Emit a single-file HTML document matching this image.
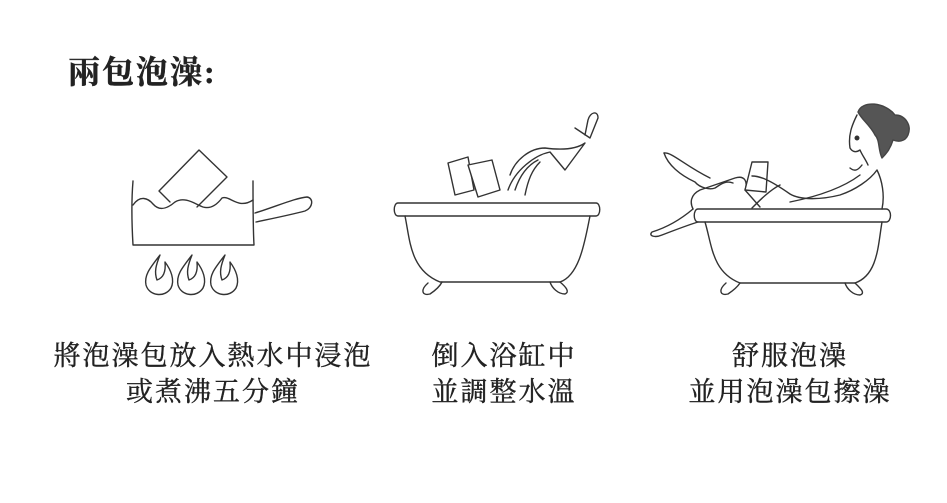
<!DOCTYPE html>
<html><head><meta charset="utf-8"><style>
body{margin:0;background:#fff;width:947px;height:503px;overflow:hidden;position:relative;font-family:"Liberation Serif","Noto Serif CJK SC",serif;color:#222}
.t{position:absolute;white-space:nowrap;-webkit-text-stroke:0.4px #222}
</style></head><body>
<div class="t" style="left:68px;top:47px;font-size:32px;letter-spacing:2px;font-weight:bold">兩包泡澡:</div>
<div class="t" style="left:0;width:426px;text-align:center;top:338px;font-size:27px;line-height:36px;letter-spacing:2px">將泡澡包放入熱水中浸泡<br>或煮沸五分鐘</div>
<div class="t" style="left:404px;width:200px;text-align:center;top:338px;font-size:27px;line-height:36px;letter-spacing:2px">倒入浴缸中<br>並調整水溫</div>
<div class="t" style="left:640px;width:300px;text-align:center;top:338px;font-size:27px;line-height:36px;letter-spacing:2px">舒服泡澡<br>並用泡澡包擦澡</div>
<svg width="947" height="503" style="position:absolute;left:0;top:0" fill="none" stroke="#333" stroke-width="1.4" stroke-linecap="round" stroke-linejoin="round">
<!-- pot -->
<path d="M133 181 C131 205 132 228 133 245 L254 245 C253 228 253 205 253 181"/>
<path d="M133 205 C140 195 148 198 153 204 C160 212 168 208 175 202 C185 196 195 204 203 207 C210 209 216 206 222 198 C230 195 238 210 253 200"/>
<path d="M197 207 L227 177 L199 150 L159 191 L170 202"/>
<path d="M255 213 C275 207 295 198 307 197 C314 198 313 208 305 211 C290 215 270 219 256 222"/>
<g id="fl"><path d="M160 255 C150 268 144 275 146 285 C149 296 165 298 171 288 C175 280 171 270 165 262 C166 272 163 278 157 280 C154 272 156 265 160 255Z"/></g>
<use href="#fl" x="32"/><use href="#fl" x="65"/>
<!-- tub 2 -->
<path d="M398 203 L596 203 C601 203 601 216 596 216 L398 216 C393 216 393 203 398 203Z"/>
<path d="M405 216 C410 240 410 270 440 282 L560 282 C580 275 585 240 590 216"/>
<path d="M428 283 C420 290 422 296 430 294 C436 290 440 286 442 282"/>
<path d="M550 282 C552 288 558 294 565 294 C570 292 566 287 560 282"/>
<path d="M448 163 L468 157 L474 190 L455 195Z" fill="#fff"/>
<path d="M468 165 L492 160 L500 190 L478 197Z" fill="#fff"/>
<path d="M508 190 C515 170 535 155 550 152 L565 170 L585 143 C575 150 560 150 545 148 C530 148 515 160 510 175"/>
<path d="M515 190 C520 175 528 165 538 160 M525 195 C528 180 532 170 540 162"/>
<path d="M575 128 L590 138 L598 118 C598 110 590 112 588 120 L585 135"/>
<!-- tub 3 -->
<path d="M698 209 L886 209 C892 209 892 222 886 222 L698 222 C693 222 693 209 698 209Z"/>
<path d="M705 222 C712 245 712 272 740 283 L855 283 C878 275 878 245 882 222"/>
<path d="M726 283 C718 290 720 296 728 294 C734 290 738 286 740 283"/>
<path d="M845 283 C847 289 853 295 860 295 C866 293 860 288 855 283"/>
<!-- woman -->
<path d="M693 209 C690 203 690 195 700 190 L735 178 C745 175 748 182 745 190 L760 207 M752 208 C760 200 770 190 780 185"/>
<path d="M664 153 C668 165 680 175 695 182 C700 188 710 190 715 188 C720 185 725 180 733 183"/>
<path d="M664 153 C672 152 684 165 710 178"/>
<path d="M693 209 C680 220 665 228 652 232 C648 236 655 238 662 235 C675 230 688 225 698 222"/>
<path d="M745 190 L752 162 L768 162 L766 192Z" fill="#fff"/>
<path d="M752 176 C760 176 770 180 790 194 C800 200 820 200 840 195 C855 190 870 180 877 170 C882 180 885 195 882 209"/>
<path d="M790 202 C810 198 840 190 860 175 M850 168 C855 172 858 170 862 165"/>
<path d="M857 115 C852 125 848 135 850 148 C853 153 857 152 860 150 C862 155 866 160 868 165"/>
<path d="M858 112 C862 100 885 102 895 115 C905 115 912 125 908 135 C905 142 898 142 893 140 C890 150 885 155 882 158 C878 150 880 140 875 135 C870 125 862 120 858 112Z" fill="#555" stroke="#444"/>
<circle cx="857" cy="138" r="1.8" fill="#333"/>
</svg>
</body></html>
